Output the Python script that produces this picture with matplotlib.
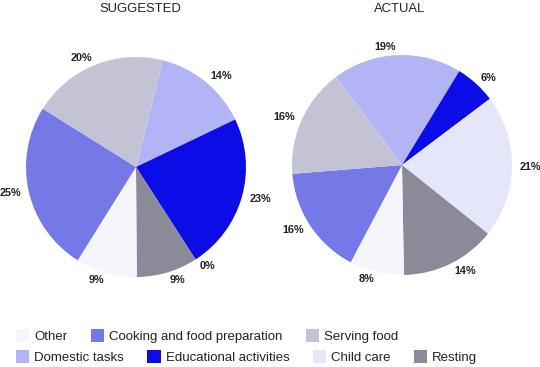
import matplotlib
matplotlib.use("Agg")
import matplotlib.pyplot as plt
from matplotlib.patches import Patch

plt.rcParams['font.family'] = ['Liberation Sans', 'DejaVu Sans']

# Data (order: clockwise from the first slice)
categories = ["Domestic tasks", "Educational activities", "Child care", "Resting",
              "Other", "Cooking and food preparation", "Serving food"]
suggested = [14, 23, 0, 9, 9, 25, 20]
actual = [19, 6, 21, 14, 8, 16, 16]
colors = {
    "Other": "#f5f5fc",
    "Cooking and food preparation": "#7579e8",
    "Serving food": "#c4c3d5",
    "Domestic tasks": "#b3b4f6",
    "Educational activities": "#0c0ce6",
    "Child care": "#e6e6fb",
    "Resting": "#8a8a98",
}
legend_row1 = ["Other", "Cooking and food preparation", "Serving food"]
legend_row2 = ["Domestic tasks", "Educational activities", "Child care", "Resting"]

W, H = 540, 367
fig = plt.figure(figsize=(W / 100, H / 100), dpi=100)

R = 110  # radius px
half = 1.25 * R


def draw(cx, cy, values, start, title, tx):
    ax = fig.add_axes([(cx - half) / W, (H - cy - half) / H, 2 * half / W, 2 * half / H])
    ax.pie(values, colors=[colors[c] for c in categories], startangle=start,
           counterclock=False, labels=[f"{v}%" for v in values], labeldistance=1.07,
           wedgeprops=dict(linewidth=0),
           textprops=dict(fontsize=7.8, fontweight='bold', color='#222222'))
    ax.set_xlim(-1.25, 1.25)
    ax.set_ylim(-1.25, 1.25)
    ax.set_aspect('auto')
    ax.axis('off')
    fig.text(tx / W, 1 - 9 / H, title, ha='center', va='center', fontsize=9.4, color='#222222')


draw(136, 167, suggested, 76, "SUGGESTED", 140)
draw(402, 165, actual, 127, "ACTUAL", 400)

for row, y in ((legend_row1, 336), (legend_row2, 357)):
    handles = [Patch(facecolor=colors[c], edgecolor='none', label=c) for c in row]
    fig.legend(handles=handles, loc='center left', bbox_to_anchor=(16 / W, 1 - y / H),
               ncol=len(row), frameon=False, fontsize=9.5, handlelength=1.0, handleheight=1.1,
               handletextpad=0.4, columnspacing=1.75, borderpad=0, borderaxespad=0,
               labelcolor='#222222')

fig.savefig("out.png", dpi=100)
